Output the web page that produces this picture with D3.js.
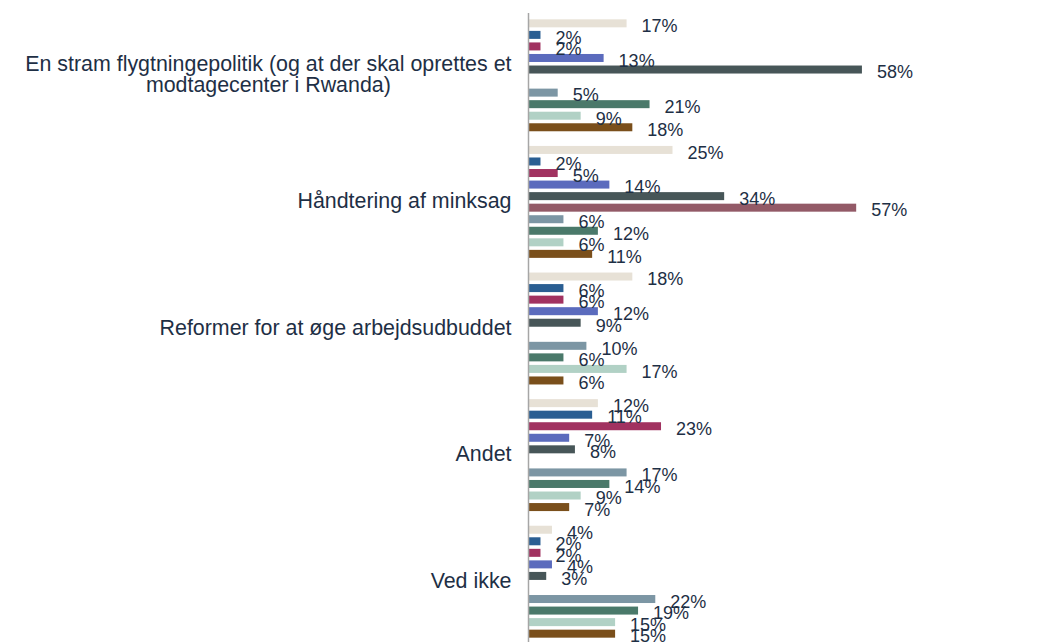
<!DOCTYPE html>
<html>
<head>
<meta charset="utf-8">
<script src="https://cdn.jsdelivr.net/npm/d3@7"></script>
<style>
  body { margin: 0; background: #fff; overflow: hidden; }
  text { font-family: "Liberation Sans", Arial, sans-serif; fill: #1e2f45; }
</style>
</head>
<body>
<svg id="chart" width="1041" height="642"></svg>
<script>
// categories (top to bottom)
const categories = [
  ["En stram flygtningepolitik (og at der skal oprettes et", "modtagecenter i Rwanda)"],
  ["Håndtering af minksag"],
  ["Reformer for at øge arbejdsudbuddet"],
  ["Andet"],
  ["Ved ikke"]
]

// ten series per category, null = no bar
const s1 = [17, 25, 18, 12, 4]
const s2 = [2, 2, 6, 11, 2]
const s3 = [2, 5, 6, 23, 2]
const s4 = [13, 14, 12, 7, 4]
const s5 = [58, 34, 9, 8, 3]
const s6 = [null, 57, null, null, null]
const s7 = [5, 6, 10, 17, 22]
const s8 = [21, 12, 6, 14, 19]
const s9 = [9, 6, 17, 9, 15]
const s10 = [18, 11, 6, 7, 15]

const series = [s1, s2, s3, s4, s5, s6, s7, s8, s9, s10]
const colors = ["#e7e1d6", "#2a5e92", "#a13260", "#5b6bbd", "#475658",
  "#935a67", "#7c96a4", "#4a796a", "#b1d1c5", "#7a4f1b"]

const svg = d3.select("#chart")

const axisX = 528.5
const x = d3.scaleLinear().domain([0, 60]).range([axisX, axisX + 344.4])

const y = d3.scaleBand()
  .domain(d3.range(categories.length))
  .range([12, 12 + 126.6 * categories.length])

const yInner = d3.scaleBand()
  .domain(d3.range(series.length))
  .range([0, y.bandwidth()])
  .paddingInner(0.307)
  .paddingOuter(0.635)

const rows = []
series.forEach((vals, si) => {
  vals.forEach((v, ci) => {
    if (v !== null) rows.push({ci, si, v})
  })
})

const g = svg.append("g")

g.selectAll("rect")
  .data(rows)
  .enter().append("rect")
  .attr("x", x(0) + 0.5)
  .attr("y", d => y(d.ci) + yInner(d.si))
  .attr("width", d => x(d.v) - x(0))
  .attr("height", yInner.bandwidth())
  .attr("fill", d => colors[d.si])

g.selectAll("text.val")
  .data(rows)
  .enter().append("text")
  .attr("class", "val")
  .attr("x", d => x(d.v) + 15.5)
  .attr("y", d => y(d.ci) + yInner(d.si) + yInner.bandwidth() / 2 + 8.8)
  .attr("font-size", 18)
  .text(d => d.v + "%")

// axis line
svg.append("line")
  .attr("x1", axisX).attr("x2", axisX)
  .attr("y1", 13).attr("y2", 642)
  .attr("stroke", "#a6a6a6")
  .attr("stroke-width", 1.5)

// category labels, lines centred on each other, block right-aligned
const lineH = 21.5
categories.forEach((lines, ci) => {
  const t = svg.append("text")
    .attr("font-size", 21.4)
    .attr("text-anchor", "middle")
  const cy = y(ci) + y.bandwidth() / 2
  const top = cy - (lines.length - 1) * lineH / 2 + 6.3
  const spans = lines.map((l, i) => t.append("tspan").attr("y", top + i * lineH).text(l))
  const w = d3.max(spans, s => s.node().getComputedTextLength())
  spans.forEach(s => s.attr("x", axisX - 17 - w / 2))
})
</script>
</body>
</html>
